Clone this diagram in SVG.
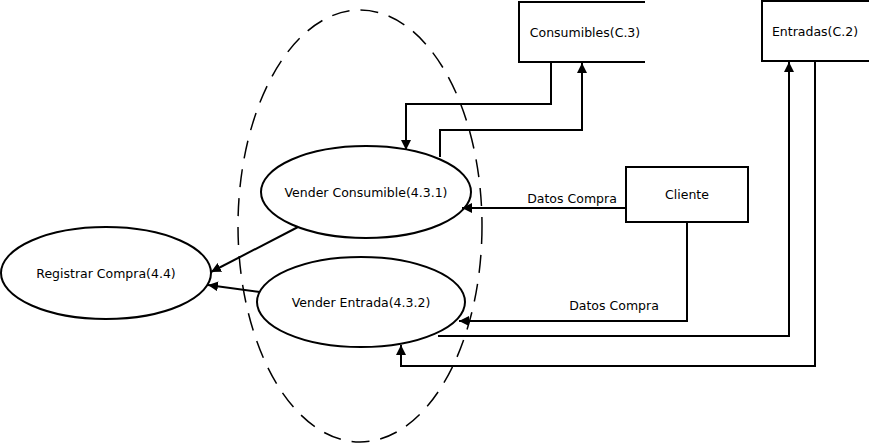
<svg xmlns="http://www.w3.org/2000/svg" width="869" height="445" viewBox="0 0 869 445">
<defs>
<marker id="arr" viewBox="0 0 10 10" refX="10" refY="5" markerWidth="10" markerHeight="10" markerUnits="userSpaceOnUse" orient="auto">
<path d="M0,0 L10,5 L0,10 z" fill="#000"/>
</marker>
<style>
.n{fill:#fff;stroke:#000;stroke-width:2}
.t{font-family:"DejaVu Sans",sans-serif;font-size:12.5px;fill:#000;text-anchor:middle}
.c{fill:none;stroke:#000;stroke-width:2;marker-end:url(#arr)}
.p{fill:none;stroke:#000;stroke-width:2}
</style>
</defs>
<rect width="869" height="445" fill="#fff"/>
<g id="boundary">
<ellipse cx="360" cy="226" rx="122" ry="216" fill="none" stroke="#000" stroke-width="1.5" stroke-dasharray="18,11"/>
</g>
<g id="consumibles">
<rect x="519" y="2" width="140" height="60" fill="#fff" stroke="none"/>
<path class="p" d="M645,2 H519 V62 H645"/>
<text class="t" x="585" y="37">Consumibles(C.3)</text>
</g>
<g id="entradas">
<rect x="762" y="1" width="110" height="60" fill="#fff" stroke="none"/>
<path class="p" d="M869,1 H762 V61 H869"/>
<text class="t" x="815" y="36">Entradas(C.2)</text>
</g>
<g id="cliente">
<rect class="n" x="626" y="167" width="122" height="55"/>
<text class="t" x="687" y="199">Cliente</text>
</g>
<g id="vender-consumible">
<ellipse class="n" cx="366" cy="192" rx="105" ry="46"/>
<text class="t" x="366" y="197">Vender Consumible(4.3.1)</text>
</g>
<g id="registrar-compra">
<ellipse class="n" cx="106" cy="273" rx="105" ry="46"/>
<text class="t" x="106" y="278">Registrar Compra(4.4)</text>
</g>
<g id="vender-entrada">
<ellipse class="n" cx="361" cy="302" rx="104" ry="45"/>
<text class="t" x="361" y="307">Vender Entrada(4.3.2)</text>
</g>
<g id="connectors">
<path class="c" d="M551,62 V104 H406 V150"/>
<path class="c" d="M440,157 V130 H582 V63"/>
<path class="c" d="M626,208 H462"/>
<text class="t" x="572" y="203">Datos Compra</text>
<path class="c" d="M687,222 V321 H459"/>
<text class="t" x="614" y="310">Datos Compra</text>
<path class="c" d="M438,336 H789 V62"/>
<path class="c" d="M815,61 V366 H401 V345"/>
<path class="c" d="M298,227 L211,272"/>
<path class="c" d="M260,292 L208,285"/>
</g>
</svg>
